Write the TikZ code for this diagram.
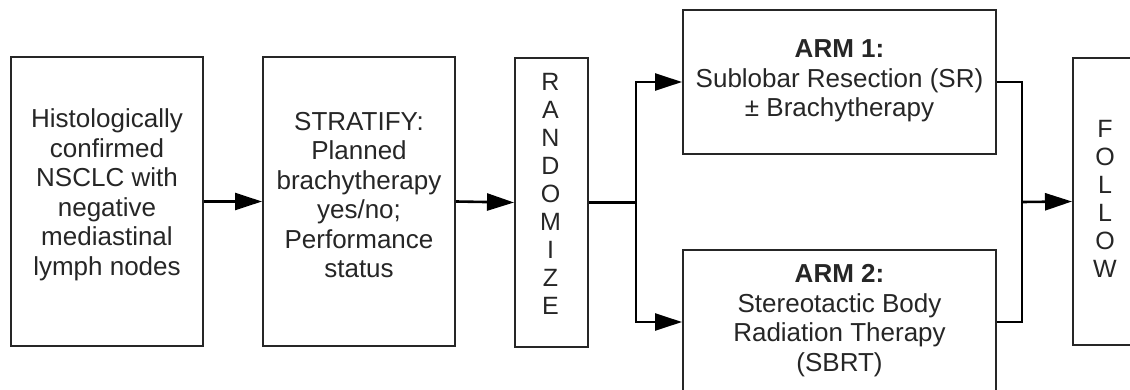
\documentclass[tikz,border=0pt]{standalone}
\usepackage{fontspec}
\setmainfont{Liberation Sans}
\usetikzlibrary{arrows.meta}
\definecolor{ink}{HTML}{262626}
\tikzset{
  boxnode/.style={draw=ink, line width=2pt, inner sep=0pt, fill=white},
  txt/.style={text=ink, align=center, inner sep=0pt, font=\fontsize{26}{29.5}\selectfont},
  vtxt/.style={text=ink, align=center, inner sep=0pt, font=\fontsize{25}{28}\selectfont},
  conn/.style={draw=black, line width=2.6pt},
  arr/.style={conn, -{Triangle[length=27pt,width=17pt]}},
}
\begin{document}
\begin{tikzpicture}[x=1pt,y=-1pt]
\useasboundingbox (0,0) rectangle (1130,390);
\clip (0,0) rectangle (1130,390);
\fill[white] (0,0) rectangle (1130,390);
% boxes
\node[boxnode, minimum width=192pt, minimum height=289pt] (b1) at (107,201.5) {};
\node[boxnode, minimum width=192pt, minimum height=289pt] (b2) at (359,201.5) {};
\node[boxnode, minimum width=73pt, minimum height=289pt] (rand) at (551.5,202.5) {};
\node[boxnode, minimum width=313pt, minimum height=144pt] (arm1) at (839.5,82) {};
\node[boxnode, minimum width=313pt, minimum height=144pt] (arm2) at (839.5,322) {};
\node[boxnode, minimum width=64pt, minimum height=287pt] (fol) at (1105,201.5) {};
% texts
\node[txt] (t1) at (107,195) {Histologically\\confirmed\\NSCLC with\\negative\\mediastinal\\lymph nodes};
\node[txt] (t2) at (359,195) {STRATIFY:\\Planned\\brachytherapy\\yes/no;\\Performance\\status};
\node[vtxt] (trand) at (550.5,193.5) {R\\A\\N\\D\\O\\M\\I\\Z\\E};
\node[txt] (tarm1) at (839.5,81) {\textbf{ARM 1:}\\Sublobar Resection (SR)\\± Brachytherapy};
\node[txt] (tarm2) at (839.5,320.5) {\textbf{ARM 2:}\\Stereotactic Body\\Radiation Therapy\\(SBRT)};
\node[vtxt] (tfol) at (1105,199) {F\\O\\L\\L\\O\\W};
% connectors
\draw[arr] (b1.east) -- (b2.west);
\draw[arr] (b2.east) -- (rand.west);
\coordinate (br) at (636,202.5);
\draw[conn] (rand.east) -- (br);
\draw[arr] (br) |- (arm1.west);
\draw[arr] (br) |- (arm2.west);
\coordinate (mg) at (1022,202);
\draw[conn] (arm1.east) -| (mg) |- (arm2.east);
\draw[arr] (mg) -- (fol.west);
\end{tikzpicture}
\end{document}
